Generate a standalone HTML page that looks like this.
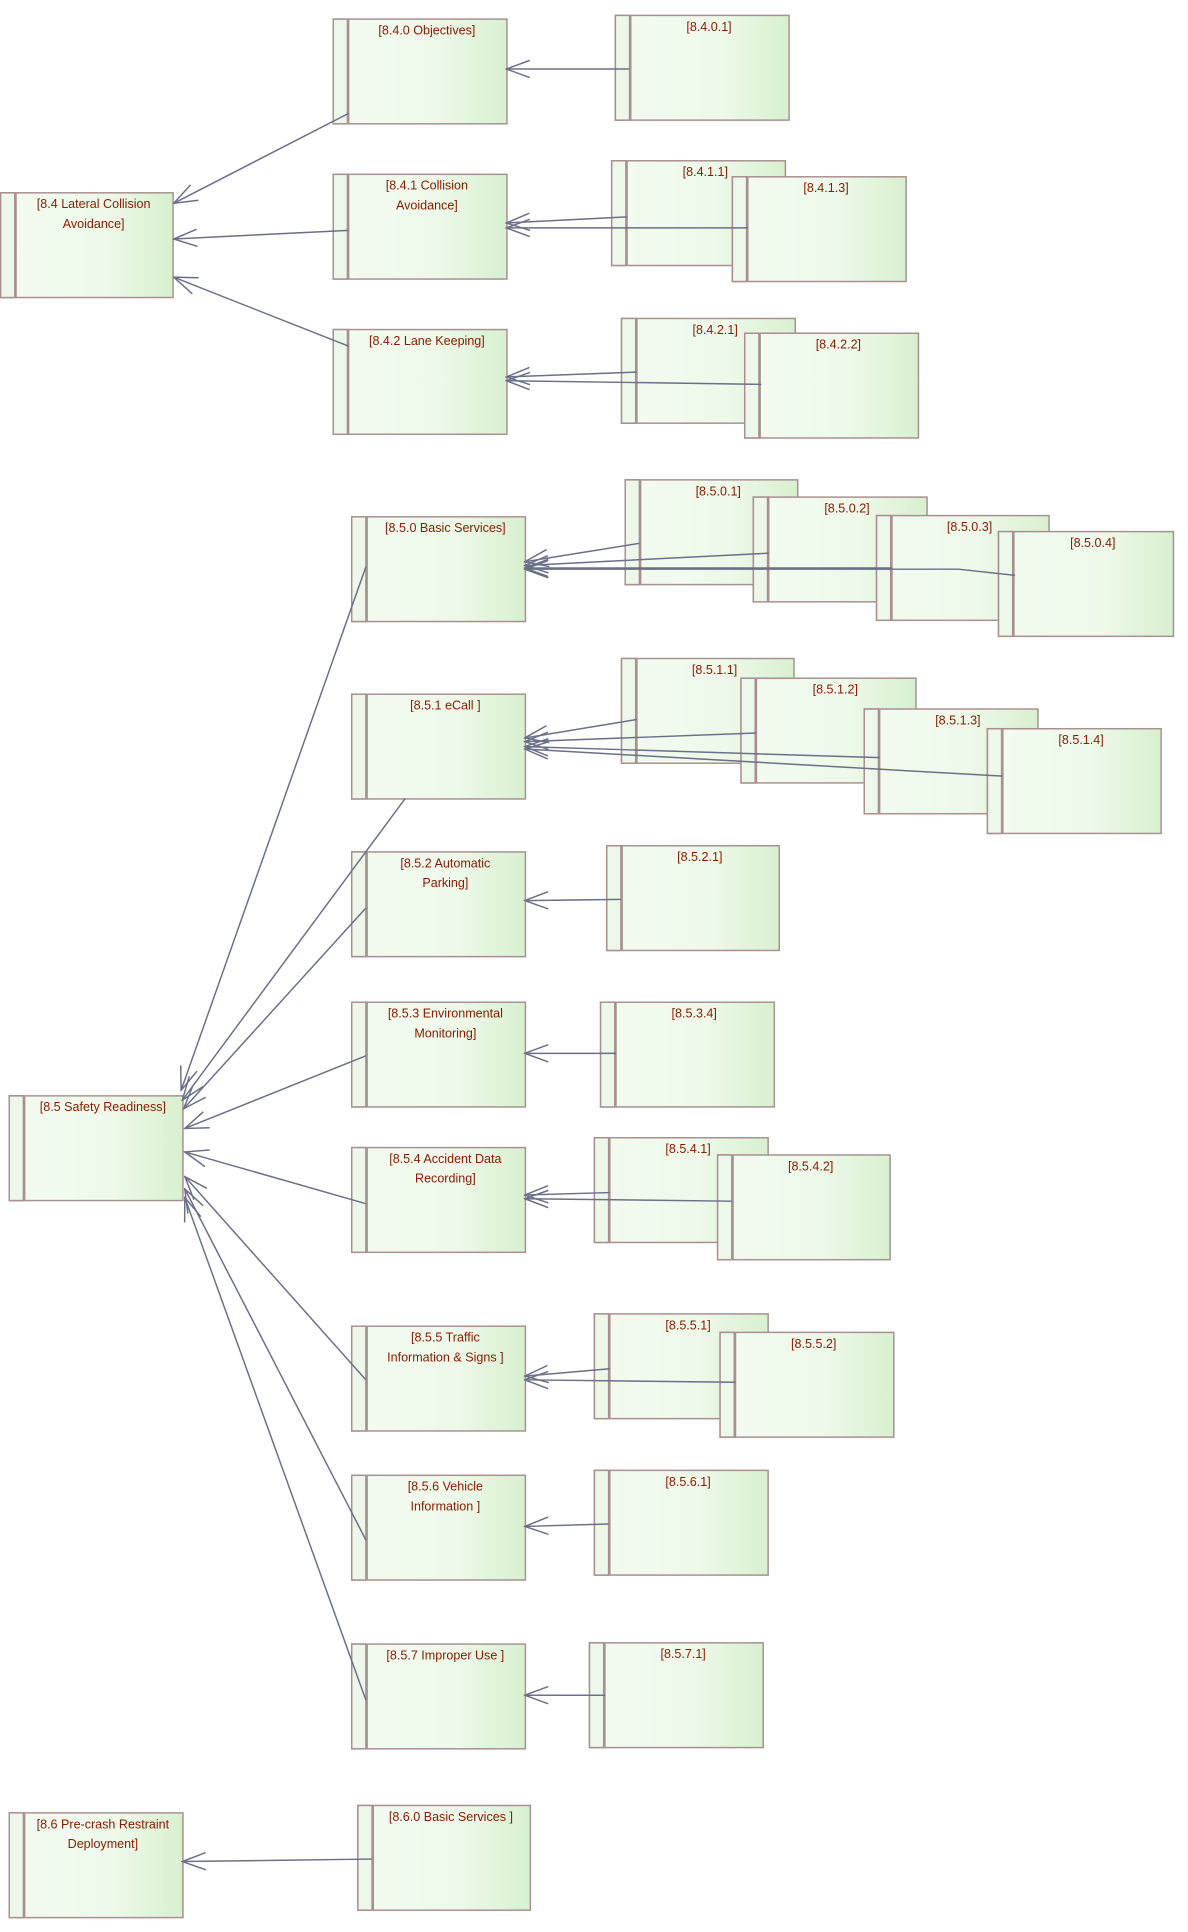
<!DOCTYPE html>
<html><head><meta charset="utf-8"><style>
html,body{margin:0;padding:0;background:#fff;}
svg{display:block;}
text{font-family:"Liberation Sans","DejaVu Sans",sans-serif;font-size:10.2px;fill:#8b1a00;text-anchor:middle;}
</style></head><body>
<svg width="1188" height="1932" viewBox="0 0 964.3 1568.2" xmlns="http://www.w3.org/2000/svg">
<defs>
<linearGradient id="g" x1="0" x2="1" y1="0" y2="0">
<stop offset="0" stop-color="#f4fbf1"/><stop offset="0.6" stop-color="#eef9ea"/><stop offset="1" stop-color="#d8f0d0"/>
</linearGradient>
<marker id="a" markerUnits="userSpaceOnUse" markerWidth="24" markerHeight="24" refX="23" refY="12" orient="auto" viewBox="0 0 24 24">
<path d="M4,5 L23,12 L4,19" fill="none" stroke="#6a7088" stroke-width="1.2"/>
</marker>
</defs>
<g id="boxes"></g>
<g id="lines" stroke="#6a7088" stroke-width="1.2" fill="none"></g>
</svg>
<script>
var B=[
[0,156,140,241,["[8.4 Lateral Collision","Avoidance]"]],
[270,15,411,100,["[8.4.0 Objectives]"]],
[499,12,640,97,["[8.4.0.1]"]],
[270,141,411,226,["[8.4.1 Collision","Avoidance]"]],
[496,130,637,215,["[8.4.1.1]"]],
[594,143,735,228,["[8.4.1.3]"]],
[270,267,411,352,["[8.4.2 Lane Keeping]"]],
[504,258,645,343,["[8.4.2.1]"]],
[604,270,745,355,["[8.4.2.2]"]],
[285,419,426,504,["[8.5.0 Basic Services]"]],
[507,389,647,474,["[8.5.0.1]"]],
[611,403,752,488,["[8.5.0.2]"]],
[711,418,851,503,["[8.5.0.3]"]],
[810,431,952,516,["[8.5.0.4]"]],
[285,563,426,648,["[8.5.1 eCall  ]"]],
[504,534,644,619,["[8.5.1.1]"]],
[601,550,743,635,["[8.5.1.2]"]],
[701,575,842,660,["[8.5.1.3]"]],
[801,591,942,676,["[8.5.1.4]"]],
[285,691,426,776,["[8.5.2 Automatic","Parking]"]],
[492,686,632,771,["[8.5.2.1]"]],
[285,813,426,898,["[8.5.3 Environmental","Monitoring]"]],
[487,813,628,898,["[8.5.3.4]"]],
[7,889,148,974,["[8.5 Safety Readiness]"]],
[285,931,426,1016,["[8.5.4 Accident Data","Recording]"]],
[482,923,623,1008,["[8.5.4.1]"]],
[582,937,722,1022,["[8.5.4.2]"]],
[285,1076,426,1161,["[8.5.5 Traffic","Information & Signs  ]"]],
[482,1066,623,1151,["[8.5.5.1]"]],
[584,1081,725,1166,["[8.5.5.2]"]],
[285,1197,426,1282,["[8.5.6 Vehicle","Information  ]"]],
[482,1193,623,1278,["[8.5.6.1]"]],
[285,1334,426,1419,["[8.5.7 Improper Use  ]"]],
[478,1333,619,1418,["[8.5.7.1]"]],
[7,1471,148,1556,["[8.6 Pre-crash Restraint","Deployment]"]],
[290,1465,430,1550,["[8.6.0 Basic Services  ]"]]
];
var L=[
[283,92,141,165],[283,187,141,194],[283,281,141,225],
[511,56,411,56],[509,176,411,181],[607,185,411,185],
[517,302,411,306],[618,312,411,309],
[297,460,147,885],[329,648,148,893],[297,737,149,900],[297,857,150,916],
[297,977,150,935],[297,1120,150,955],[297,1250,150,965],[297,1380,150,972],
[519,441,426,456],[624,449,426,459],[724,461,426,461],
[426,462,426,462],
[517,584,426,599],[614,595,426,602],[714,615,426,606],[814,630,426,608],
[504,730,426,731],[500,855,426,855],[495,968,426,970],[594,975,426,973],
[495,1111,426,1117],[597,1122,426,1120],[494,1237,426,1239],[491,1376,426,1376],
[302,1509,148,1511]
];
var s="";
B.forEach(function(b){
 var x=b[0],y=b[1],w=b[2]-b[0],h=b[3]-b[1];
 s+='<rect x="'+(x+0.5)+'" y="'+(y+0.5)+'" width="'+w+'" height="'+h+'" fill="url(#g)" stroke="#a89090" stroke-width="1.2"/>';
 s+='<rect x="'+(x+0.5)+'" y="'+(y+0.5)+'" width="11.5" height="'+h+'" fill="#eef8ea" stroke="#a89090" stroke-width="1.2"/>';
 s+='<line x1="'+(x+13)+'" y1="'+(y+0.5)+'" x2="'+(x+13)+'" y2="'+(y+h+0.5)+'" stroke="#a89090" stroke-width="1.2"/>';
 var cx=x+12+(w-12)/2;
 b[4].forEach(function(t,i){s+='<text x="'+cx+'" y="'+(y+13+i*16)+'">'+t.replace(/&/g,"&amp;")+'</text>';});
});
document.getElementById("boxes").innerHTML=s;
var l="";
L.forEach(function(p,i){
 if(i==19){l+='<path d="M824,467 L778,462 L426,462" marker-end="url(#a)"/>';return;}
 l+='<line x1="'+p[0]+'" y1="'+p[1]+'" x2="'+p[2]+'" y2="'+p[3]+'" marker-end="url(#a)"/>';
});
document.getElementById("lines").innerHTML=l;
</script>
</body></html>
